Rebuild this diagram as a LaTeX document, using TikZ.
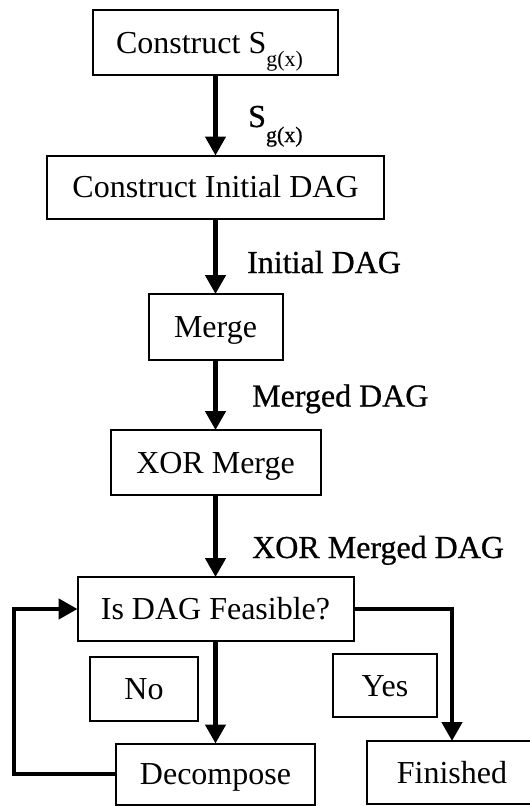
\documentclass[tikz,border=0pt]{standalone}
\usepackage{fontspec}
\setmainfont{Liberation Serif}
% labels on the connectors: regular face, slightly emboldened
\newfontfamily\labelfont{Liberation Serif}[FakeBold=0.7]
\usetikzlibrary{arrows.meta}

% subscript set as in the original: smaller and well below the baseline
\newcommand{\lowsub}[3]{\raisebox{-#1}[0pt][0pt]{\fontsize{#2}{#2}\selectfont #3}}

\begin{document}
\begin{tikzpicture}[x=1pt,y=-1pt,
  stepbox/.style={draw, line width=2pt, inner sep=0pt, outer sep=0pt,
    text height=21pt, text depth=0pt, align=center,
    font=\fontsize{32}{38}\selectfont},
  flowlabel/.style={anchor=base west, inner sep=0pt,
    font=\labelfont\fontsize{32}{38}\selectfont},
  flow/.style={line width=4.5pt, -{Triangle[length=19pt,width=20pt]}},
  loopline/.style={line width=4.5pt}]
\useasboundingbox (0,0) rectangle (530,806);

% process boxes
\node[stepbox, minimum width=245pt, minimum height=65pt] (cs)  at (215.5,42.5) {Construct S\lowsub{13pt}{22}{g(x)}\hspace{12pt}};
\node[stepbox, minimum width=337pt, minimum height=63pt] (ci)  at (215.5,187) {Construct Initial DAG};
\node[stepbox, minimum width=134pt, minimum height=66pt] (mg)  at (215.5,327) {Merge};
\node[stepbox, minimum width=210pt, minimum height=65pt] (xm)  at (215.5,462.5) {XOR Merge};
\node[stepbox, minimum width=276pt, minimum height=64pt] (fe)  at (215.5,609) {Is DAG Feasible?};
\node[stepbox, minimum width=108pt, minimum height=64pt] (no)  at (144,689) {No};
\node[stepbox, minimum width=104pt, minimum height=63pt] (yes) at (385,685.5) {Yes};
\node[stepbox, minimum width=199pt, minimum height=61pt] (dc)  at (215.5,774) {Decompose};
\node[stepbox, minimum width=170pt, minimum height=63pt] (fin) at (452,772.5) {Finished};

% data passed between the steps
\node[flowlabel] (l1) at (248,127) {S\lowsub{15pt}{22}{g(x)}};
\node[flowlabel] (l2) at (247,273) {Initial DAG};
\node[flowlabel] (l3) at (252,406.5) {Merged DAG};
\node[flowlabel] (l4) at (252,558) {XOR Merged DAG};

% main flow
\draw[flow] (cs) -- (ci);
\draw[flow] (ci) -- (mg);
\draw[flow] (mg) -- (xm);
\draw[flow] (xm) -- (fe);
\draw[flow] (fe) -- (dc);

% feasible: finished
\draw[flow] (fe.east) -| (fin.north);

% not feasible: decompose and test again
\coordinate (loopx) at (14,0);
\draw[flow] (dc.west) -- (dc.west -| loopx) |- (fe.west);
\end{tikzpicture}
\end{document}
